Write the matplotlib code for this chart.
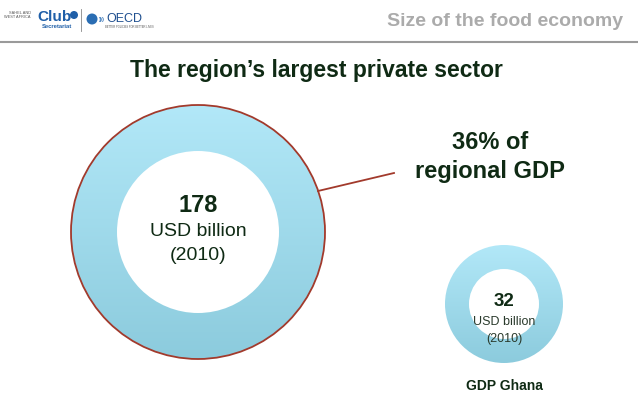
import numpy as np
import matplotlib
matplotlib.use("Agg")
import matplotlib.pyplot as plt
from matplotlib.patches import Circle

plt.rcParams["font.family"] = ["Liberation Sans", "DejaVu Sans"]

# data
values = [178, 32]
units = ["USD billion", "USD billion"]
years = ["(2010)", "(2010)"]
share_label = "36% of\nregional GDP"
bottom_label = "GDP Ghana"
title = "The region\u2019s largest private sector"
header = "Size of the food economy"

W, H = 638, 399
DARK = "#0f2a14"

fig = plt.figure(figsize=(W / 100, H / 100), dpi=100)
ax = fig.add_axes([0, 0, 1, 1])
ax.set_xlim(0, W)
ax.set_ylim(H, 0)
ax.axis("off")

grad = np.linspace(0, 1, 256).reshape(-1, 1)
cmap = matplotlib.colors.LinearSegmentedColormap.from_list("ring", ["#b2e8f8", "#8ccbdd"])


def ring(cx, cy, r_out, r_in, edge=None):
    img = ax.imshow(grad, cmap=cmap, extent=(cx - r_out, cx + r_out, cy + r_out, cy - r_out),
                    aspect="auto", zorder=1)
    clip = Circle((cx, cy), r_out, transform=ax.transData)
    img.set_clip_path(clip)
    if edge:
        ax.add_patch(Circle((cx, cy), r_out, fill=False, ec=edge, lw=1.3, zorder=3))
    ax.add_patch(Circle((cx, cy), r_in, fc="white", ec="none", zorder=2))


# big ring: food economy
ring(198, 232, 127, 81, edge="#a23a2c")
ax.text(198, 206, str(values[0]), ha="center", va="center", fontsize=17, fontweight="bold", color=DARK, zorder=4)
ax.text(198, 232, units[0], ha="center", va="center", fontsize=14, color=DARK, zorder=4)
ax.text(198, 256, years[0], ha="center", va="center", fontsize=14, color=DARK, zorder=4)

# small ring: Ghana GDP
ring(504, 304, 59, 35)
ax.text(504, 302, str(values[1]), ha="center", va="center", fontsize=13.5, fontweight="bold", color=DARK, zorder=4)
ax.text(504, 322, units[1], ha="center", va="center", fontsize=9, color="#2a3a2c", zorder=4)
ax.text(504, 339, years[1], ha="center", va="center", fontsize=9, color="#2a3a2c", zorder=4)
ax.text(504, 386, bottom_label, ha="center", va="center", fontsize=10, fontweight="bold", color=DARK)

# connector + share
ax.plot([318, 394], [191, 173], color="#a23a2c", lw=1.3, zorder=3)
ax.text(490, 157, share_label, ha="center", va="center", fontsize=17, fontweight="bold",
        color=DARK, linespacing=1.3)

# titles
ax.text(316, 70, title, ha="center", va="center", fontsize=16.5, fontweight="bold", color=DARK)
ax.text(623, 21, header, ha="right", va="center", fontsize=14, fontweight="bold", color="#ababab")
ax.plot([0, W], [42, 42], color="#9a9a9a", lw=1.5)

# logo
ax.text(31, 15, "SAHEL AND\nWEST AFRICA", ha="right", va="center", fontsize=2.8, color="#555555", linespacing=1.1)
ax.text(54, 17, "Club", ha="center", va="center", fontsize=11, fontweight="bold", color="#1f5fa8")
ax.add_patch(Circle((74, 15), 4, fc="#1f5fa8", ec="none"))
ax.text(57, 26, "Secretariat", ha="center", va="center", fontsize=4.2, fontweight="bold", color="#1f5fa8")
ax.plot([81, 81], [9, 31], color="#888888", lw=0.6)
ax.add_patch(Circle((92, 19), 5.5, fc="#2a6db3", ec="none"))
ax.text(98.5, 19, ")))", ha="left", va="center", fontsize=4, fontweight="bold", color="#2a6db3")
ax.text(106, 19, "OECD", ha="left", va="center", fontsize=9, color="#1f4f8f")
ax.text(105, 27, "BETTER POLICIES FOR BETTER LIVES", ha="left", va="center", fontsize=1.9, color="#555555")

fig.savefig("out.png", dpi=100)
